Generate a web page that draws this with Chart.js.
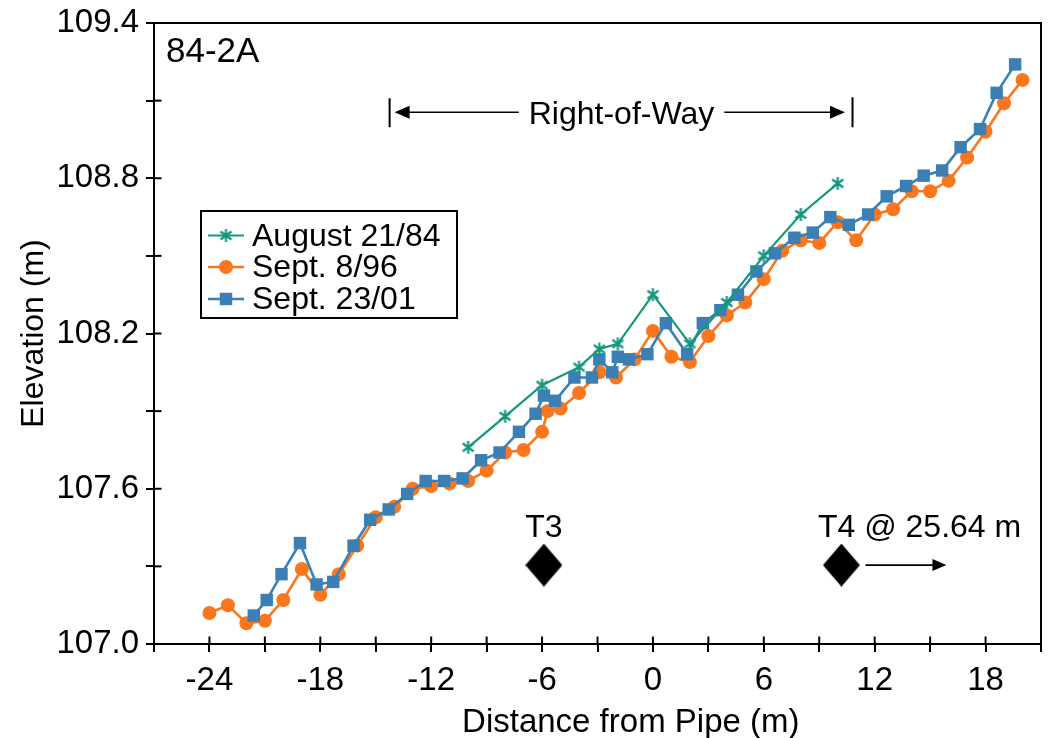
<!DOCTYPE html>
<html>
<head>
<meta charset="utf-8">
<script src="https://cdn.jsdelivr.net/npm/chart.js@4/dist/chart.umd.min.js"></script>
<style>
  html, body { margin: 0; padding: 0; background: #fff; }
  canvas { display: block; }
</style>
</head>
<body>
<canvas id="c" width="1053" height="738"></canvas>
<script>
// ---------------- data ----------------
const seriesNames = ['August 21/84', 'Sept. 8/96', 'Sept. 23/01'];

const aug84X = [-10, -8, -6, -4, -2.9, -1.9, 0, 2, 4, 6, 8, 10];
const aug84Y = [107.76, 107.88, 108.00, 108.07, 108.14, 108.16, 108.35, 108.16, 108.32, 108.50, 108.66, 108.78];

const sep96X = [-24, -23, -22, -21, -20, -19, -18, -17, -16, -15, -14, -13, -12, -11, -10, -9, -8, -7, -6, -5.7, -5, -4, -2.9, -2, -1, 0, 1, 2, 3, 4, 5, 6, 7, 8, 9, 10, 11, 12, 13, 14, 15, 16, 17, 18, 19, 20];
const sep96Y = [107.12, 107.15, 107.08, 107.09, 107.17, 107.29, 107.19, 107.27, 107.38, 107.49, 107.53, 107.60, 107.61, 107.62, 107.63, 107.67, 107.74, 107.75, 107.82, 107.90, 107.91, 107.97, 108.05, 108.03, 108.10, 108.21, 108.11, 108.09, 108.19, 108.27, 108.32, 108.41, 108.52, 108.56, 108.55, 108.63, 108.56, 108.66, 108.68, 108.75, 108.75, 108.79, 108.88, 108.98, 109.09, 109.18];

const sep01X = [-21.6, -20.9, -20.1, -19.1, -18.2, -17.3, -16.2, -15.3, -14.3, -13.3, -12.3, -11.3, -10.3, -9.3, -8.3, -7.25, -6.35, -5.9, -5.3, -4.25, -3.3, -2.9, -2.2, -1.9, -1.3, -0.3, 0.7, 1.85, 2.7, 3.65, 4.6, 5.6, 6.6, 7.65, 8.65, 9.6, 10.6, 11.65, 12.65, 13.7, 14.65, 15.65, 16.65, 17.7, 18.6, 19.6];
const sep01Y = [107.11, 107.17, 107.27, 107.39, 107.23, 107.24, 107.38, 107.48, 107.52, 107.58, 107.63, 107.63, 107.64, 107.71, 107.74, 107.82, 107.89, 107.96, 107.94, 108.03, 108.03, 108.10, 108.05, 108.11, 108.10, 108.12, 108.24, 108.12, 108.24, 108.29, 108.35, 108.44, 108.51, 108.57, 108.59, 108.65, 108.62, 108.66, 108.73, 108.77, 108.81, 108.83, 108.92, 108.99, 109.13, 109.24];

// T3 / T4 markers
const markerNames = ['T3', 'T4 @ 25.64 m'];
const markerX = [-5.9, 10.2];
const markerY = [107.305, 107.305];

// right-of-way extent
const rowLabel = 'Right-of-Way';
const rowStart = -14.25;
const rowEnd = 10.8;
const rowElev = 109.055;
const rowTextCenter = -1.7;

const panelLabel = '84-2A';

// axes
const xMin = -27, xMax = 21, xStep = 3, xLabelEvery = 6;
const yMin = 107.0, yMax = 109.4, yStep = 0.3;
const xTitle = 'Distance from Pipe (m)';
const yTitle = 'Elevation (m)';
const xTitleCenter = -1.2;   // axis value under the centre of the x title

// ---------------- styles ----------------
const FONT = '"Liberation Sans", Arial, Helvetica, sans-serif';
const GREEN = '#14977f';
const ORANGE = '#fb761d';
const BLUE = '#3b7fb4';

function starCanvas(color) {
  const c = document.createElement('canvas');
  c.width = 15; c.height = 15;
  const g = c.getContext('2d');
  g.strokeStyle = color; g.lineWidth = 2.2; g.lineCap = 'butt';
  g.beginPath();
  g.moveTo(7.5, 1); g.lineTo(7.5, 14);
  g.moveTo(2, 3.5); g.lineTo(13, 11.5);
  g.moveTo(13, 3.5); g.lineTo(2, 11.5);
  g.stroke();
  return c;
}
function diamondCanvas() {
  const c = document.createElement('canvas');
  c.width = 37; c.height = 43;
  const g = c.getContext('2d');
  g.fillStyle = '#000';
  g.beginPath();
  g.moveTo(18.5, 0); g.lineTo(37, 21.5); g.lineTo(18.5, 43); g.lineTo(0, 21.5);
  g.closePath(); g.fill();
  return c;
}
const starImg = starCanvas(GREEN);
const diamondImg = diamondCanvas();

const zip = (xs, ys) => xs.map((x, i) => ({ x: x, y: ys[i] }));

const datasets = [
  { label: seriesNames[0], data: zip(aug84X, aug84Y), borderColor: GREEN, backgroundColor: GREEN,
    borderWidth: 2.2, pointStyle: starImg, pointRadius: 7.5, order: 0 },
  { label: seriesNames[1], data: zip(sep96X, sep96Y), borderColor: ORANGE, backgroundColor: ORANGE,
    borderWidth: 2.6, pointStyle: 'circle', pointRadius: 7, pointBorderWidth: 0, order: 2 },
  { label: seriesNames[2], data: zip(sep01X, sep01Y), borderColor: BLUE, backgroundColor: BLUE,
    borderWidth: 2.6, pointStyle: 'rect', pointRadius: 8.8, pointBorderWidth: 0, order: 1 },
  { label: 'markers', data: zip(markerX, markerY), showLine: false, borderColor: '#000', backgroundColor: '#000',
    pointStyle: diamondImg, pointRadius: 20, order: 3 }
];

// ---------------- plugins ----------------
function arrowHead(ctx, x, y, dir, len, half) {
  ctx.beginPath();
  ctx.moveTo(x, y);
  ctx.lineTo(x - dir * len, y - half);
  ctx.lineTo(x - dir * len, y + half);
  ctx.closePath();
  ctx.fill();
}

const framePlugin = {
  id: 'frame',
  beforeDatasetsDraw(chart) {
    const { ctx, chartArea: a, scales: { x, y } } = chart;
    ctx.save();
    ctx.strokeStyle = '#000';
    ctx.lineWidth = 2;
    ctx.beginPath();
    ctx.moveTo(a.left, a.top); ctx.lineTo(a.right, a.top); ctx.lineTo(a.right, a.bottom);
    ctx.stroke();
    x.ticks.forEach(t => {
      const px = x.getPixelForValue(t.value);
      ctx.beginPath(); ctx.moveTo(px, a.bottom); ctx.lineTo(px, a.bottom - 7.5); ctx.stroke();
    });
    y.ticks.forEach(t => {
      const py = y.getPixelForValue(t.value);
      ctx.beginPath(); ctx.moveTo(a.left, py); ctx.lineTo(a.left + 7.5, py); ctx.stroke();
    });
    // x axis title
    ctx.fillStyle = '#000';
    ctx.font = '33px ' + FONT;
    ctx.textAlign = 'center';
    ctx.textBaseline = 'alphabetic';
    ctx.fillText(xTitle, x.getPixelForValue(xTitleCenter), 731.5);
    ctx.restore();
  },
  afterDatasetsDraw(chart) {
    const { ctx, chartArea: a, scales: { x, y } } = chart;
    ctx.save();
    ctx.fillStyle = '#000';
    ctx.strokeStyle = '#000';
    ctx.lineWidth = 2;

    ctx.font = '35px ' + FONT;
    ctx.textAlign = 'left';
    ctx.textBaseline = 'alphabetic';
    ctx.fillText(panelLabel, a.left + 12, 61.5);

    const ry = y.getPixelForValue(rowElev);
    const lx = x.getPixelForValue(rowStart);
    const rx = x.getPixelForValue(rowEnd);
    const tx = x.getPixelForValue(rowTextCenter);
    ctx.font = '32px ' + FONT;
    ctx.textAlign = 'center';
    ctx.textBaseline = 'alphabetic';
    const tw = ctx.measureText(rowLabel).width;
    ctx.fillText(rowLabel, tx, ry + 11.5);
    ctx.lineWidth = 2;
    ctx.beginPath();
    ctx.moveTo(lx, ry - 14); ctx.lineTo(lx, ry + 15);
    ctx.moveTo(rx, ry - 15); ctx.lineTo(rx, ry + 15);
    ctx.stroke();
    ctx.lineWidth = 1.6;
    ctx.beginPath();
    ctx.moveTo(lx + 12, ry); ctx.lineTo(tx - tw / 2 - 10, ry);
    ctx.moveTo(tx + tw / 2 + 10, ry); ctx.lineTo(rx - 20, ry);
    ctx.stroke();
    arrowHead(ctx, lx + 5, ry, -1, 15, 6.5);
    arrowHead(ctx, rx - 7.5, ry, 1, 15, 6.5);

    const t3x = x.getPixelForValue(markerX[0]), t3y = y.getPixelForValue(markerY[0]);
    const t4x = x.getPixelForValue(markerX[1]), t4y = y.getPixelForValue(markerY[1]);
    ctx.font = '32px ' + FONT;
    ctx.textAlign = 'center';
    ctx.fillText(markerNames[0], t3x, t3y - 28.5);
    ctx.textAlign = 'left';
    ctx.fillText(markerNames[1], t4x - 23.5, t4y - 28.5);
    ctx.lineWidth = 1.6;
    ctx.beginPath();
    ctx.moveTo(t4x + 24, t4y); ctx.lineTo(t4x + 92, t4y);
    ctx.stroke();
    arrowHead(ctx, t4x + 105, t4y, 1, 14, 6);

    const bx = a.left + 47, by = 211, bw = 256, bh = 107;
    ctx.lineWidth = 2;
    ctx.strokeRect(bx, by, bw, bh);
    const legendOrder = [0, 1, 2];
    const rowCenters = [235.5, 267, 299];
    ctx.font = '32px ' + FONT;
    ctx.textAlign = 'left';
    ctx.textBaseline = 'middle';
    legendOrder.forEach((di, k) => {
      const ds = chart.data.datasets[di];
      const cy = rowCenters[k];
      ctx.strokeStyle = ds.borderColor;
      ctx.lineWidth = ds.borderWidth;
      ctx.beginPath(); ctx.moveTo(bx + 7, cy); ctx.lineTo(bx + 43, cy); ctx.stroke();
      ctx.fillStyle = ds.backgroundColor;
      Chart.helpers.drawPoint(ctx, { pointStyle: ds.pointStyle, radius: ds.pointRadius, rotation: 0, borderWidth: 0 }, bx + 25, cy);
      ctx.fillStyle = '#000';
      ctx.fillText(ds.label, bx + 51, cy + 1.5);
    });
    ctx.restore();
  }
};

// ---------------- chart ----------------
const tickFont = { family: FONT, size: 33 };
new Chart(document.getElementById('c'), {
  type: 'line',
  data: { datasets: datasets },
  options: {
    responsive: false,
    animation: false,
    devicePixelRatio: 1,
    layout: { autoPadding: false, padding: { top: 23, right: 12, left: 0, bottom: 0 } },
    plugins: { legend: { display: false }, tooltip: { enabled: false } },
    elements: { line: { tension: 0 } },
    scales: {
      x: {
        type: 'linear', min: xMin, max: xMax,
        ticks: {
          stepSize: xStep, autoSkip: false, maxRotation: 0, color: '#000', font: tickFont, padding: 9,
          callback: v => (Math.round(v) % xLabelEvery === 0 ? String(Math.round(v)) : '')
        },
        grid: { drawOnChartArea: false, drawTicks: true, tickLength: 8, color: '#000', lineWidth: 2 },
        border: { display: true, color: '#000', width: 2 },
        title: { display: false, text: xTitle },
        afterFit: s => { s.height = 94; s.paddingLeft = 0; s.paddingRight = 0; }
      },
      y: {
        type: 'linear', min: yMin, max: yMax,
        ticks: {
          stepSize: yStep, autoSkip: false, color: '#000', font: tickFont, padding: 7,
          callback: v => (Math.round((v - yMin) / yStep) % 2 === 0 ? v.toFixed(1) : '')
        },
        grid: { drawOnChartArea: false, drawTicks: true, tickLength: 8, color: '#000', lineWidth: 2 },
        border: { display: true, color: '#000', width: 2 },
        title: { display: true, text: yTitle, color: '#000', font: { family: FONT, size: 32, lineHeight: 1 }, padding: { top: 18, bottom: 0 } },
        afterFit: s => { s.width = 154; s.paddingTop = 0; s.paddingBottom = 0; }
      }
    }
  },
  plugins: [framePlugin]
});
</script>
</body>
</html>
